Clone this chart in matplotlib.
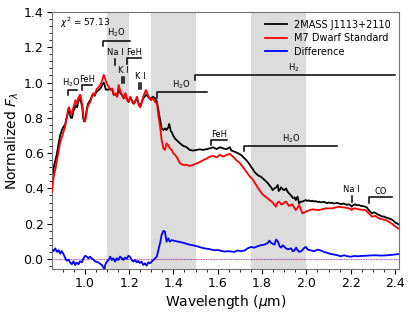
import matplotlib
matplotlib.use("Agg")
import matplotlib.pyplot as plt
from matplotlib.ticker import MultipleLocator, AutoMinorLocator

# target spectrum (2MASS J1113+2110)
wl_obj = [0.852, 0.857, 0.862, 0.868, 0.875, 0.883, 0.889, 0.897, 0.904, 0.912,
          0.916, 0.920, 0.924, 0.928, 0.932, 0.937, 0.943, 0.949, 0.954, 0.958,
          0.962, 0.966, 0.970, 0.974, 0.978, 0.981, 0.985, 0.989, 0.993, 0.997,
          1.001, 1.006, 1.010, 1.015, 1.020, 1.025, 1.030, 1.035, 1.040, 1.045,
          1.050, 1.055, 1.060, 1.065, 1.070, 1.075, 1.080, 1.086, 1.090, 1.095,
          1.101, 1.108, 1.116, 1.124, 1.131, 1.139, 1.146, 1.153, 1.161, 1.168,
          1.176, 1.183, 1.191, 1.198, 1.206, 1.214, 1.221, 1.229, 1.236, 1.244,
          1.251, 1.258, 1.264, 1.270, 1.276, 1.282, 1.288, 1.298, 1.308, 1.318,
          1.326, 1.332, 1.340, 1.347, 1.355, 1.362, 1.369, 1.373, 1.377, 1.381,
          1.384, 1.388, 1.392, 1.399, 1.407, 1.414, 1.422, 1.430, 1.437, 1.445,
          1.452, 1.460, 1.467, 1.474, 1.481, 1.489, 1.496, 1.506, 1.513, 1.520,
          1.528, 1.536, 1.543, 1.551, 1.557, 1.565, 1.572, 1.579, 1.587, 1.595,
          1.602, 1.610, 1.617, 1.625, 1.632, 1.640, 1.647, 1.655, 1.661, 1.668,
          1.675, 1.682, 1.690, 1.697, 1.705, 1.713, 1.721, 1.729, 1.735, 1.743,
          1.750, 1.758, 1.765, 1.773, 1.780, 1.788, 1.795, 1.803, 1.811, 1.818,
          1.826, 1.833, 1.841, 1.848, 1.856, 1.863, 1.871, 1.875, 1.879, 1.886,
          1.893, 1.901, 1.908, 1.916, 1.923, 1.931, 1.939, 1.946, 1.952, 1.960,
          1.967, 1.975, 1.982, 1.990, 1.997, 2.004, 2.011, 2.019, 2.027, 2.034,
          2.042, 2.050, 2.057, 2.064, 2.072, 2.079, 2.086, 2.094, 2.101, 2.109,
          2.117, 2.124, 2.131, 2.139, 2.146, 2.154, 2.161, 2.169, 2.176, 2.184,
          2.191, 2.199, 2.204, 2.211, 2.219, 2.228, 2.237, 2.245, 2.252, 2.260,
          2.267, 2.274, 2.281, 2.288, 2.296, 2.304, 2.311, 2.319, 2.327, 2.334,
          2.342, 2.350, 2.357, 2.365, 2.372, 2.380, 2.388, 2.395, 2.402, 2.409,
          2.416]
fl_obj = [0.43, 0.49, 0.53, 0.56, 0.60, 0.66, 0.70, 0.73, 0.75, 0.76,
          0.79, 0.80, 0.83, 0.85, 0.83, 0.80, 0.80, 0.84, 0.85, 0.87,
          0.87, 0.86, 0.89, 0.90, 0.91, 0.91, 0.88, 0.86, 0.80, 0.78,
          0.78, 0.82, 0.855, 0.88, 0.89, 0.90, 0.915, 0.93, 0.935, 0.925,
          0.94, 0.95, 0.955, 0.96, 0.965, 0.975, 0.99, 1.00, 0.985, 0.96,
          0.96, 0.96, 0.965, 0.96, 0.93, 0.935, 0.92, 0.96, 0.94, 0.93,
          0.91, 0.935, 0.905, 0.89, 0.915, 0.895, 0.88, 0.895, 0.91, 0.875,
          0.87, 0.89, 0.91, 0.92, 0.93, 0.925, 0.915, 0.91, 0.92, 0.91,
          0.89, 0.845, 0.79, 0.74, 0.731, 0.74, 0.731, 0.74, 0.745, 0.765,
          0.75, 0.725, 0.72, 0.70, 0.683, 0.674, 0.665, 0.655, 0.648, 0.64,
          0.638, 0.633, 0.625, 0.618, 0.616, 0.614, 0.616, 0.618, 0.62, 0.622,
          0.619, 0.618, 0.621, 0.622, 0.625, 0.627, 0.63, 0.633, 0.628, 0.622,
          0.628, 0.633, 0.63, 0.627, 0.624, 0.622, 0.628, 0.633, 0.615, 0.612,
          0.608, 0.605, 0.60, 0.595, 0.59, 0.58, 0.57, 0.56, 0.551, 0.538,
          0.523, 0.51, 0.495, 0.485, 0.476, 0.47, 0.466, 0.457, 0.448, 0.44,
          0.43, 0.418, 0.406, 0.39, 0.40, 0.405, 0.419, 0.385, 0.39, 0.406,
          0.395, 0.39, 0.40, 0.38, 0.37, 0.36, 0.345, 0.35, 0.334, 0.353,
          0.315, 0.325, 0.325, 0.33, 0.334, 0.329, 0.332, 0.327, 0.33, 0.326,
          0.328, 0.323, 0.325, 0.321, 0.322, 0.324, 0.32, 0.316, 0.32, 0.317,
          0.318, 0.314, 0.316, 0.318, 0.315, 0.311, 0.312, 0.314, 0.31, 0.307,
          0.31, 0.305, 0.296, 0.305, 0.31, 0.304, 0.306, 0.301, 0.30, 0.298,
          0.296, 0.29, 0.277, 0.268, 0.259, 0.264, 0.262, 0.254, 0.25, 0.246,
          0.24, 0.241, 0.236, 0.233, 0.23, 0.226, 0.221, 0.214, 0.206, 0.202,
          0.196]

# M7 dwarf standard
wl_std = [0.852, 0.857, 0.862, 0.868, 0.875, 0.883, 0.889, 0.897, 0.904, 0.912,
          0.916, 0.920, 0.924, 0.928, 0.932, 0.937, 0.943, 0.949, 0.954, 0.958,
          0.962, 0.966, 0.970, 0.974, 0.978, 0.981, 0.985, 0.989, 0.993, 0.997,
          1.001, 1.006, 1.010, 1.015, 1.020, 1.025, 1.030, 1.035, 1.040, 1.045,
          1.050, 1.055, 1.060, 1.065, 1.070, 1.075, 1.080, 1.086, 1.090, 1.095,
          1.101, 1.108, 1.116, 1.124, 1.131, 1.139, 1.146, 1.153, 1.161, 1.168,
          1.176, 1.183, 1.191, 1.198, 1.206, 1.214, 1.221, 1.229, 1.236, 1.244,
          1.251, 1.258, 1.264, 1.270, 1.276, 1.282, 1.288, 1.298, 1.308, 1.318,
          1.326, 1.332, 1.340, 1.347, 1.355, 1.362, 1.369, 1.377, 1.384, 1.392,
          1.399, 1.407, 1.414, 1.422, 1.430, 1.445, 1.460, 1.474, 1.489, 1.506,
          1.520, 1.536, 1.551, 1.565, 1.579, 1.595, 1.610, 1.625, 1.640, 1.655,
          1.669, 1.684, 1.699, 1.714, 1.729, 1.743, 1.758, 1.773, 1.788, 1.803,
          1.818, 1.833, 1.848, 1.862, 1.870, 1.877, 1.885, 1.893, 1.900, 1.908,
          1.916, 1.922, 1.930, 1.937, 1.945, 1.952, 1.960, 1.967, 1.975, 1.982,
          1.990, 1.997, 2.011, 2.027, 2.042, 2.057, 2.072, 2.086, 2.101, 2.117,
          2.131, 2.146, 2.161, 2.176, 2.191, 2.199, 2.204, 2.211, 2.219, 2.237,
          2.252, 2.267, 2.281, 2.296, 2.311, 2.327, 2.342, 2.357, 2.372, 2.388,
          2.402, 2.416]
fl_std = [0.38, 0.44, 0.48, 0.51, 0.56, 0.62, 0.66, 0.69, 0.72, 0.75,
          0.79, 0.81, 0.84, 0.86, 0.85, 0.82, 0.83, 0.86, 0.88, 0.90,
          0.89, 0.88, 0.91, 0.92, 0.93, 0.93, 0.90, 0.87, 0.82, 0.79,
          0.78, 0.81, 0.845, 0.87, 0.88, 0.89, 0.91, 0.93, 0.94, 0.93,
          0.95, 0.965, 0.97, 0.98, 0.985, 1.00, 1.02, 1.043, 1.03, 1.01,
          0.99, 0.975, 0.958, 0.966, 0.93, 0.94, 0.92, 0.986, 0.95, 0.93,
          0.91, 0.94, 0.90, 0.89, 0.92, 0.89, 0.88, 0.90, 0.92, 0.87,
          0.86, 0.89, 0.92, 0.94, 0.958, 0.94, 0.92, 0.90, 0.91, 0.89,
          0.88, 0.816, 0.75, 0.674, 0.627, 0.618, 0.655, 0.645, 0.627, 0.618,
          0.60, 0.59, 0.58, 0.561, 0.542, 0.533, 0.533, 0.527, 0.533, 0.542,
          0.55, 0.561, 0.57, 0.58, 0.584, 0.576, 0.59, 0.58, 0.59, 0.595,
          0.58, 0.56, 0.545, 0.52, 0.495, 0.47, 0.45, 0.42, 0.39, 0.365,
          0.35, 0.335, 0.32, 0.296, 0.32, 0.325, 0.31, 0.31, 0.32, 0.325,
          0.31, 0.30, 0.305, 0.31, 0.29, 0.277, 0.29, 0.305, 0.28, 0.259,
          0.262, 0.268, 0.275, 0.281, 0.279, 0.277, 0.282, 0.287, 0.287, 0.287,
          0.292, 0.296, 0.293, 0.291, 0.287, 0.283, 0.277, 0.285, 0.287, 0.281,
          0.279, 0.277, 0.259, 0.24, 0.244, 0.23, 0.225, 0.221, 0.211, 0.198,
          0.183, 0.172]

# difference (target - standard)
wl_diff = [0.852, 0.860, 0.867, 0.875, 0.882, 0.889, 0.896, 0.904, 0.911, 0.919,
           0.927, 0.934, 0.942, 0.949, 0.957, 0.964, 0.972, 0.979, 0.987, 0.995,
           1.002, 1.009, 1.017, 1.024, 1.031, 1.039, 1.046, 1.054, 1.062, 1.069,
           1.077, 1.085, 1.090, 1.092, 1.100, 1.107, 1.115, 1.122, 1.129, 1.137,
           1.144, 1.152, 1.159, 1.167, 1.174, 1.182, 1.189, 1.197, 1.204, 1.212,
           1.219, 1.227, 1.234, 1.241, 1.248, 1.256, 1.264, 1.272, 1.279, 1.287,
           1.294, 1.302, 1.309, 1.317, 1.325, 1.332, 1.340, 1.347, 1.355, 1.362,
           1.369, 1.377, 1.384, 1.392, 1.407, 1.422, 1.437, 1.452, 1.467, 1.482,
           1.497, 1.512, 1.527, 1.541, 1.557, 1.572, 1.587, 1.602, 1.617, 1.632,
           1.647, 1.675, 1.690, 1.705, 1.721, 1.735, 1.750, 1.765, 1.780, 1.795,
           1.811, 1.826, 1.833, 1.841, 1.856, 1.863, 1.871, 1.879, 1.886, 1.893,
           1.901, 1.908, 1.916, 1.931, 1.939, 1.946, 1.954, 1.961, 1.969, 1.976,
           1.984, 1.991, 1.998, 2.006, 2.021, 2.036, 2.050, 2.065, 2.080, 2.095,
           2.110, 2.125, 2.140, 2.155, 2.170, 2.185, 2.201, 2.217, 2.232, 2.247,
           2.277, 2.307, 2.337, 2.367, 2.398, 2.416]
fl_diff = [0.051, 0.045, 0.06, 0.04, 0.05, 0.03, 0.045, 0.028, 0.008, -0.01,
           -0.004, -0.02, -0.03, -0.013, -0.035, -0.02, -0.03, -0.013, -0.02, 0.005,
           0.018, 0.013, 0.004, 0.013, 0.004, -0.004, -0.013, -0.017, -0.02, -0.027,
           -0.034, -0.05, -0.06, -0.034, -0.015, -0.006, 0.013, -0.006, 0.004, -0.015,
           0.004, -0.006, 0.013, 0.004, -0.006, 0.008, 0.0, 0.018, 0.013, -0.006,
           -0.015, -0.006, -0.019, -0.011, -0.023, -0.015, -0.034, -0.025, -0.038, -0.019,
           -0.025, -0.015, -0.006, 0.004, 0.013, 0.05, 0.09, 0.136, 0.159, 0.155,
           0.098, 0.117, 0.098, 0.107, 0.102, 0.098, 0.094, 0.089, 0.083, 0.079,
           0.075, 0.07, 0.064, 0.06, 0.057, 0.053, 0.049, 0.051, 0.045, 0.042,
           0.044, 0.04, 0.048, 0.044, 0.048, 0.06, 0.068, 0.064, 0.072, 0.078,
           0.081, 0.091, 0.104, 0.091, 0.081, 0.11, 0.10, 0.072, 0.064, 0.078,
           0.068, 0.06, 0.055, 0.06, 0.044, 0.048, 0.064, 0.048, 0.04, 0.044,
           0.053, 0.064, 0.068, 0.053, 0.048, 0.044, 0.053, 0.048, 0.04, 0.034,
           0.028, 0.025, 0.021, 0.015, 0.021, 0.015, 0.013, 0.017, 0.015, 0.017,
           0.019, 0.021, 0.019, 0.021, 0.025, 0.028]

# shaded telluric bands
bands = [(1.1, 1.2), (1.3, 1.5), (1.75, 2.0)]

# band brackets: label, start, end, line y, label x
brackets = [("H$_2$O", 0.926, 0.966, 0.958, 0.937),
            ("FeH", 0.988, 1.033, 0.986, 1.012),
            ("H$_2$O", 1.082, 1.204, 1.236, 1.143),
            ("FeH", 1.192, 1.254, 1.137, 1.224),
            ("H$_2$O", 1.324, 1.550, 0.945, 1.437),
            ("H$_2$", 1.497, 2.400, 1.043, 1.944),
            ("FeH", 1.569, 1.642, 0.674, 1.605),
            ("H$_2$O", 1.719, 2.140, 0.640, 1.930),
            ("CO", 2.282, 2.387, 0.350, 2.336)]

# atomic lines: label, label x, line positions, top of tick
atoms = [("Na I", 1.140, [1.138], 1.132),
         ("K I", 1.176, [1.170, 1.178], 1.033),
         ("K I", 1.249, [1.244, 1.253], 0.996),
         ("Na I", 2.204, [2.206], 0.357)]

chi2 = 57.13

fig = plt.figure(figsize=(4.12, 3.15), dpi=100)
ax = fig.add_axes([0.126, 0.146, 0.842, 0.816])

for lo, hi in bands:
    ax.axvspan(lo, hi, color="#dcdcdc", lw=0, zorder=0)

ax.plot(wl_obj, fl_obj, color="k", lw=1.3, label="2MASS J1113+2110", zorder=2)
ax.plot(wl_std, fl_std, color="r", lw=1.3, label="M7 Dwarf Standard", zorder=3)
ax.plot(wl_diff, fl_diff, color="b", lw=1.3, label="Difference", zorder=3)
ax.axhline(0, color="r", lw=0.8, ls=(0, (1, 2)), alpha=0.6, zorder=1)
ax.axhline(0, color="b", lw=0.8, ls=(1.5, (1, 2)), alpha=0.6, zorder=1)

for label, x0, x1, y, xt in brackets:
    ax.plot([x0, x0, x1], [y - 0.03, y, y], color="k", lw=1.1)
    ax.text(xt, y + 0.008, label, fontsize=6, ha="center", va="bottom")

for label, xt, lines, top in atoms:
    for xl in lines:
        ax.plot([xl, xl], [top, top - 0.035], color="k", lw=1.1)
    ax.text(xt, top + 0.01, label, fontsize=6, ha="center", va="bottom")

ax.text(0.023, 0.958, r"$\chi^2$ = {:.2f}".format(chi2), transform=ax.transAxes,
        fontsize=6.5, va="center")

ax.set_xlim(0.852, 2.417)
ax.set_ylim(-0.057, 1.4)
ax.xaxis.set_major_locator(MultipleLocator(0.2))
ax.xaxis.set_minor_locator(MultipleLocator(0.05))
ax.yaxis.set_major_locator(MultipleLocator(0.2))
ax.yaxis.set_minor_locator(AutoMinorLocator(5))
ax.tick_params(which="major", length=3.5, labelsize=9, pad=2.5)
ax.tick_params(which="minor", length=2)
for s in ax.spines.values():
    s.set_color("0.45")

ax.set_xlabel(r"Wavelength ($\mu$m)", fontsize=10, labelpad=2)
ax.set_ylabel(r"Normalized $F_\lambda$", fontsize=10, labelpad=2)
ax.legend(loc="upper right", frameon=False, fontsize=7, handlelength=2.2,
          labelspacing=0.35, borderaxespad=0.4)

fig.savefig("out.png", dpi=100)
